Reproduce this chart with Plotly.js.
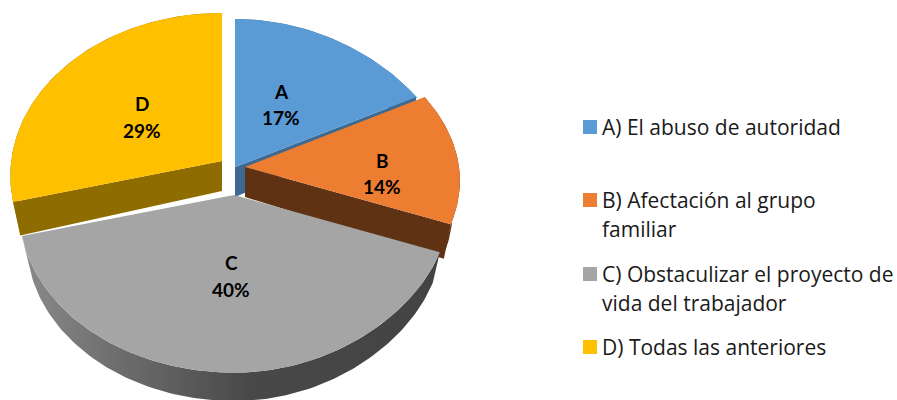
<!DOCTYPE html>
<html><head><meta charset="utf-8">
<script src="https://cdn.plot.ly/plotly-3.0.1.min.js"></script>
<style>html,body{margin:0;padding:0;background:#fff}#c{width:897px;height:400px}</style>
</head><body><div id="c"></div>
<script>
// ---- data ----
const categories = ['A','B','C','D'];
const shares = [17,14,40,29];
const legendLines = [
  ['A) El abuso de autoridad'],
  ['B) Afectación al grupo','familiar'],
  ['C) Obstaculizar el proyecto de','vida del trabajador'],
  ['D) Todas las anteriores']
];
// ---- style ----
const topColors  = ['#5B9BD5','#ED7D31','#A5A5A5','#FFC000'];
const sideColors = ['#3E6A92','#5F3213','#454545','#8F6C00'];
const sideGradient = [[0,'#8C8C8C'],[0.25,'#6C6C6C'],[0.55,'#484848'],[1,'#434343']];
// ---- layout of the exploded pie, in the plot's coordinates ----
const apexX = [235,245,234,222], apexY = [167,167,195,161];
const radiusScale = [1.01,1,1,0.985];
const RX = 214, RY = 161.5, PERSP = 0.0909, RIGHT_FLAT = 0.08, DEPTH = 31, SX = 0.966, SY = 0.985;
const EDGE_DEPTH = 30, EDGE_SY = 1.08;
const labelPos = [[281,91,117],[382,160,186],[231,262,289],[142,103,130]];
const legendSwatchX = 590, legendTextX = 601;
const legendRows = [[127],[200,229],[274,303],[347]];
const legendSwatchY = [127,200,274,347];

const total = shares.reduce((a,b)=>a+b,0);
const startFrac = shares.map((_,i)=>shares.slice(0,i).reduce((a,b)=>a+b,0)/total);
function rim(t,i){
  const d=1+PERSP*Math.cos(t), s=Math.max(0,Math.sin(t));
  return [radiusScale[i]*RX*Math.sin(t)/d,-RY*Math.cos(t)/d*(1-RIGHT_FLAT*s*s)];
}
function arc(i){
  const t0=startFrac[i]*2*Math.PI, t1=(startFrac[i]+shares[i]/total)*2*Math.PI, out=[];
  const n=Math.max(8,Math.round(shares[i]*3));
  for(let k=0;k<=n;k++) out.push(rim(t0+(t1-t0)*k/n,i));
  return out;
}
const low=p=>[p[0]*SX,p[1]*SY+DEPTH];
const edgeLow=p=>[p[0]*SX,p[1]*EDGE_SY+EDGE_DEPTH];
function poly(i,pts,color,extra){
  return Object.assign({type:'scatter',mode:'lines',x:pts.map(p=>apexX[i]+p[0]),y:pts.map(p=>apexY[i]+p[1]),
    fill:'toself',fillcolor:color,line:{width:0,color:color},hoverinfo:'skip',showlegend:false},extra||{});
}
function topFace(i){const a=arc(i);return poly(i,[[0,0],...a,[0,0]],topColors[i],
  {name:categories[i]});}
function outerSide(i,extra){const a=arc(i);return poly(i,[...a,...a.slice().reverse().map(low),a[0]],sideColors[i],extra);}
function edgeSide(i,p){return poly(i,[[0,0],p,edgeLow(p),edgeLow([0,0]),[0,0]],sideColors[i]);}

const A=0,B=1,C=2,D=3, lastPt=i=>arc(i)[arc(i).length-1], firstPt=i=>arc(i)[0];
const traces=[
  edgeSide(A,lastPt(A)), outerSide(A), topFace(A),
  edgeSide(D,firstPt(D)), outerSide(D), topFace(D),
  outerSide(B), edgeSide(B,lastPt(B)), topFace(B),
  outerSide(C,{fillgradient:{type:'horizontal',start:15,stop:445,colorscale:sideGradient}}), topFace(C)
];
categories.forEach((c,i)=>traces.push({type:'scatter',mode:'markers',x:[legendSwatchX],y:[legendSwatchY[i]],
  marker:{symbol:'square',size:14,color:topColors[i],line:{width:0}},hoverinfo:'skip',showlegend:false,name:c}));

const annotations=[];
const ann=(x,y,text,font,anchor)=>annotations.push({x,y,xref:'x',yref:'y',text,showarrow:false,
  xanchor:anchor,yanchor:'middle',align:anchor==='left'?'left':'center',font,borderpad:0});
const labelFont={family:'Lato, sans-serif',size:19,color:'#000'};
categories.forEach((c,i)=>{
  ann(labelPos[i][0],labelPos[i][1],'<b>'+c+'</b>',labelFont,'center');
  ann(labelPos[i][0],labelPos[i][2],'<b>'+shares[i]+'%</b>',labelFont,'center');
});
const legendFont={family:'"Open Sans", sans-serif',size:21,color:'#1a1a1a'};
legendLines.forEach((lines,i)=>lines.forEach((l,j)=>ann(legendTextX,legendRows[i][j],l,legendFont,'left')));

Plotly.newPlot('c',traces,{
  width:897,height:400,margin:{l:0,r:0,t:0,b:0},paper_bgcolor:'#fff',plot_bgcolor:'#fff',showlegend:false,
  xaxis:{range:[0,897],visible:false,fixedrange:true},
  yaxis:{range:[400,0],visible:false,fixedrange:true},
  annotations
},{displayModeBar:false,staticPlot:true});
</script></body></html>
